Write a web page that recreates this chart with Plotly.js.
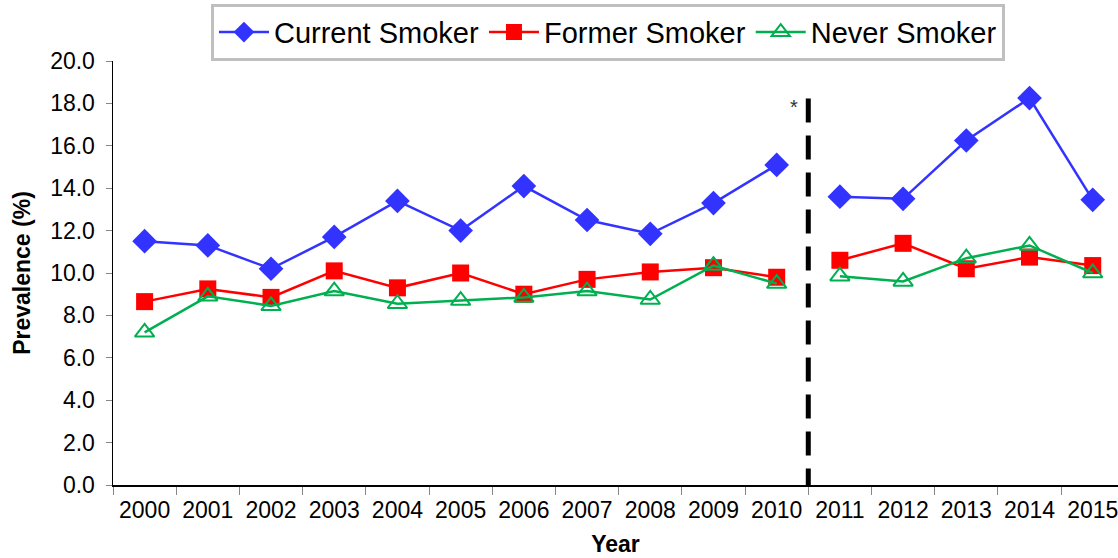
<!DOCTYPE html>
<html><head><meta charset="utf-8">
<script src="https://cdn.plot.ly/plotly-3.0.1.min.js"></script>
<style>html,body{margin:0;padding:0;background:#fff}#chart{width:1118px;height:558px}</style>
</head><body><div id="chart"></div>
<script>
const years = ["2000","2001","2002","2003","2004","2005","2006","2007","2008","2009","2010","2011","2012","2013","2014","2015"];
const currentSmoker = [11.5,11.3,10.2,11.7,13.4,12.0,14.1,12.5,11.85,13.3,15.1,13.6,13.5,16.25,18.25,13.45];
const formerSmoker = [8.65,9.25,8.85,10.1,9.3,10.0,9.0,9.7,10.05,10.25,9.8,10.6,11.4,10.2,10.75,10.35];
const neverSmoker = [7.2,8.9,8.45,9.15,8.55,8.7,8.85,9.15,8.75,10.35,9.5,9.85,9.6,10.7,11.3,10.0];
const breakIndex = 11; // series break between 2010 and 2011

const series = [
  {name:"Current Smoker", y:currentSmoker, color:"#3333FF", marker:{symbol:"diamond", size:19, color:"#3333FF"}},
  {name:"Former Smoker", y:formerSmoker, color:"#FF0000", marker:{symbol:"square", size:17, color:"#FF0000"}},
  {name:"Never Smoker", y:neverSmoker, color:"#00B050", marker:{symbol:"triangle-up-open", size:17, color:"#00B050", line:{width:2, color:"#00B050"}}}
];
const traces = [];
series.forEach(s => {
  [[0, breakIndex], [breakIndex, years.length]].forEach((r, i) => {
    traces.push({
      type:"scatter", mode:"lines+markers", name:s.name, legendgroup:s.name, showlegend:i===0,
      x:years.slice(r[0], r[1]), y:s.y.slice(r[0], r[1]),
      line:{color:s.color, width:2.5}, marker:s.marker
    });
  });
});

const layout = {
  width:1118, height:558,
  margin:{l:113, r:0, t:61, b:73},
  paper_bgcolor:"#fff", plot_bgcolor:"#fff",
  font:{family:"Liberation Sans, Arial, sans-serif", color:"#000"},
  showlegend:true,
  legend:{orientation:"h", x:0.4925, xanchor:"center", y:1.135, yanchor:"top",
    bordercolor:"#BFBFBF", borderwidth:3, font:{size:29, color:"#000"},
    itemwidth:50, tracegroupgap:0, traceorder:"normal"},
  xaxis:{type:"category", categoryorder:"array", categoryarray:years,
    range:[-0.5, 15.4], tickson:"boundaries", ticks:"outside", ticklen:8, tickcolor:"#888",
    showline:true, linecolor:"#000", linewidth:1.5, showgrid:false, zeroline:false,
    ticklabelstandoff:4,
    tickfont:{size:23}, title:{text:"<b>Year</b>", font:{size:23}, standoff:14}},
  yaxis:{range:[0,20], dtick:2, tickformat:".1f", ticks:"outside", ticklen:6, tickcolor:"#888",
    showline:true, linecolor:"#000", linewidth:1.5, showgrid:false, zeroline:false,
    ticklabelstandoff:6,
    tickfont:{size:23}, title:{text:"<b>Prevalence (%)</b>", font:{size:23}, standoff:13}},
  shapes:[{type:"line", xref:"x", yref:"y", x0:10.5, x1:10.5, y0:-0.35, y1:18.55,
    line:{color:"#000", width:5, dash:"24px,13px"}}],
  annotations:[{xref:"x", yref:"y", x:10.28, y:17.85, text:"*", showarrow:false,
    font:{size:20, color:"#333"}}]
};
Plotly.newPlot("chart", traces, layout, {displayModeBar:false, staticPlot:true});
</script></body></html>
